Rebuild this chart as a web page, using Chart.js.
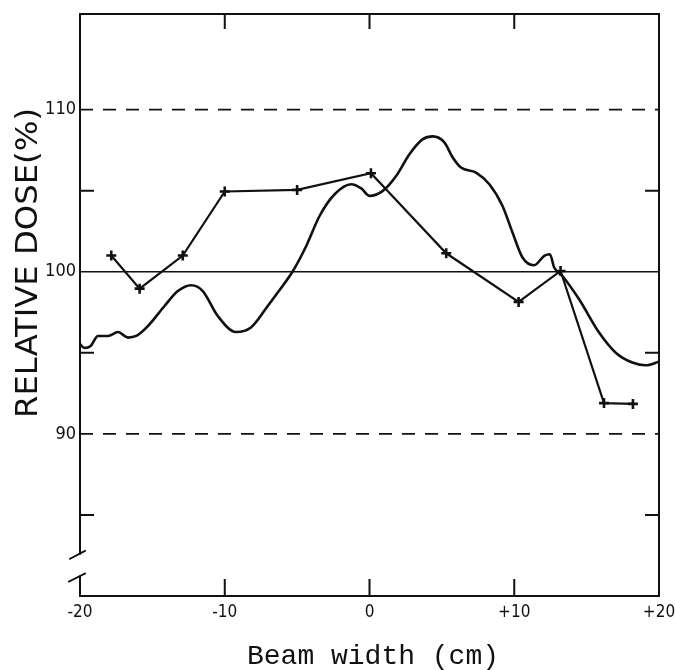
<!DOCTYPE html>
<html>
<head>
<meta charset="utf-8">
<script src="https://cdn.jsdelivr.net/npm/chart.js@4.4.1/dist/chart.umd.min.js"></script>
<style>
  html, body { margin: 0; padding: 0; background: #fff; }
</style>
</head>
<body>
<canvas id="doseChart" width="675" height="670"></canvas>
<script>
// continuous dose profile (smooth curve)
const profileX = [-20.1, -19.7, -19.26, -18.76, -18.07, -17.38, -16.69, -16.12, -15.31, -14.16, -13.24, -12.32, -11.52, -10.48, -9.22, -8.19, -7.03, -6.34,
  -5.29, -4.37, -3.45, -2.41, -1.26, -0.57, 0.0, 0.92, 1.84, 2.76, 3.68, 4.37, 5.17, 5.75, 6.32, 7.36, 8.28, 9.19, 9.88, 10.57, 11.38, 12.07, 12.46, 12.76, 13.33,
  14.48, 15.86, 17.01, 18.16, 19.08, 20.0];
const profileY = [95.67, 95.3, 95.42, 96.04, 96.04, 96.28, 95.94, 96.04, 96.65, 97.89, 98.81, 99.17, 98.81, 97.27, 96.28, 96.56, 97.89, 98.72,
  100.05, 101.59, 103.44, 104.78, 105.4, 105.14, 104.68, 104.99, 105.91, 107.25, 108.18, 108.35, 107.98, 107.05, 106.43, 106.12, 105.4, 104.06, 102.42, 100.88, 100.4, 100.98, 101.08, 100.26, 99.74,
  98.3, 96.25, 95.01, 94.4, 94.23, 94.45];

// measured points (crosses)
const measuredX = [-17.84, -15.88, -12.9, -10.0, -5.0, 0.1, 5.3, 10.3, 13.2, 16.2, 18.2];
const measuredY = [101.0, 98.96, 101.0, 104.95, 105.05, 106.08, 101.14, 98.14, 100.05, 91.9, 91.85];

const refLevels = [110, 100, 90];
const xTickValues = [-20, -10, 0, 10, 20];
const xTickLabels = ['-20', '-10', '0', '+10', '+20'];
const yLabelValues = [90, 100, 110];
const yMinorTicks = [85, 95, 105];
const xInnerTicks = [-10, 0, 10];
const axisBreak = [82.6, 81.2];

const ink = '#111';
const narrow = "'Liberation Sans Narrow', 'DejaVu Sans Condensed', 'Liberation Sans', sans-serif";

const toPoints = (xs, ys) => xs.map((x, i) => ({ x: x, y: ys[i] }));

const refSets = refLevels.map(v => ({
  data: [{ x: -20, y: v }, { x: 20, y: v }],
  borderColor: ink,
  borderWidth: v === 100 ? 1.7 : 1.9,
  borderDash: v === 100 ? [] : [13, 10],
  pointRadius: 0
}));

// frame, inner ticks, axis break, titles
const framePlugin = {
  id: 'frame',
  afterDraw(chart) {
    const { ctx, chartArea: a, scales: { x, y } } = chart;
    ctx.save();
    ctx.strokeStyle = ink;
    ctx.lineWidth = 2;
    ctx.lineCap = 'square';

    const b1 = y.getPixelForValue(axisBreak[0]);
    const b2 = y.getPixelForValue(axisBreak[1]);
    ctx.beginPath();
    ctx.moveTo(a.left, b1);
    ctx.lineTo(a.left, a.top);
    ctx.lineTo(a.right, a.top);
    ctx.lineTo(a.right, a.bottom);
    ctx.lineTo(a.left, a.bottom);
    ctx.lineTo(a.left, b2);
    ctx.stroke();

    // break marks
    ctx.lineWidth = 1.8;
    ctx.beginPath();
    ctx.moveTo(a.left - 10, b1 + 5); ctx.lineTo(a.left + 5, b1 - 3);
    ctx.moveTo(a.left - 11, b2 + 5); ctx.lineTo(a.left + 5, b2 - 3);
    ctx.stroke();

    // inner ticks
    ctx.lineWidth = 2;
    ctx.beginPath();
    xInnerTicks.forEach(v => {
      const px = x.getPixelForValue(v);
      ctx.moveTo(px, a.top); ctx.lineTo(px, a.top + 14);
      ctx.moveTo(px, a.bottom); ctx.lineTo(px, a.bottom - 16);
    });
    yMinorTicks.forEach(v => {
      const py = y.getPixelForValue(v);
      ctx.moveTo(a.left, py); ctx.lineTo(a.left + 13, py);
      ctx.moveTo(a.right, py); ctx.lineTo(a.right - 13, py);
    });
    ctx.stroke();

    // y title
    ctx.fillStyle = ink;
    ctx.font = '31px ' + narrow;
    const yTitle = 'RELATIVE DOSE(%)';
    const w = ctx.measureText(yTitle).width;
    ctx.save();
    ctx.translate(29, 263);
    ctx.rotate(-Math.PI / 2);
    ctx.scale(310 / w, 1);
    ctx.textAlign = 'center';
    ctx.textBaseline = 'middle';
    ctx.fillText(yTitle, 0, 0);
    ctx.restore();

    // x title
    ctx.font = "28px 'Liberation Mono', 'DejaVu Sans Mono', monospace";
    ctx.textAlign = 'center';
    ctx.textBaseline = 'middle';
    ctx.fillText('Beam width (cm)', 373, 657);
    ctx.restore();
  }
};

const ctx = document.getElementById('doseChart').getContext('2d');

new Chart(ctx, {
  type: 'line',
  data: {
    datasets: [
      ...refSets,
      {
        data: toPoints(profileX, profileY),
        borderColor: ink,
        borderWidth: 2.6,
        pointRadius: 0,
        cubicInterpolationMode: 'monotone'
      },
      {
        data: toPoints(measuredX, measuredY),
        borderColor: ink,
        backgroundColor: ink,
        borderWidth: 2.2,
        pointStyle: 'cross',
        pointRadius: 5,
        pointBorderWidth: 2.6,
        tension: 0
      }
    ]
  },
  options: {
    responsive: false,
    animation: false,
    layout: { padding: { top: 14, right: 16, left: 0, bottom: 0 } },
    plugins: {
      legend: { display: false },
      tooltip: { enabled: false }
    },
    scales: {
      x: {
        type: 'linear',
        min: -20,
        max: 20,
        afterBuildTicks: s => { s.ticks = xTickValues.map(v => ({ value: v })); },
        afterFit: s => { s.height = 74; s.paddingLeft = 0; s.paddingRight = 0; },
        ticks: {
          callback: v => xTickLabels[xTickValues.indexOf(v)],
          font: { family: narrow, size: 17 },
          color: ink,
          padding: 6,
          maxRotation: 0,
          autoSkip: false
        },
        grid: { display: false, drawTicks: false },
        border: { display: false }
      },
      y: {
        min: 80,
        max: 115.9,
        afterBuildTicks: s => { s.ticks = yLabelValues.map(v => ({ value: v })); },
        afterFit: s => { s.width = 80; s.paddingTop = 0; s.paddingBottom = 0; },
        ticks: {
          font: { family: narrow, size: 18 },
          color: ink,
          padding: 4
        },
        grid: { display: false, drawTicks: false },
        border: { display: false }
      }
    }
  },
  plugins: [framePlugin]
});
</script>
</body>
</html>
